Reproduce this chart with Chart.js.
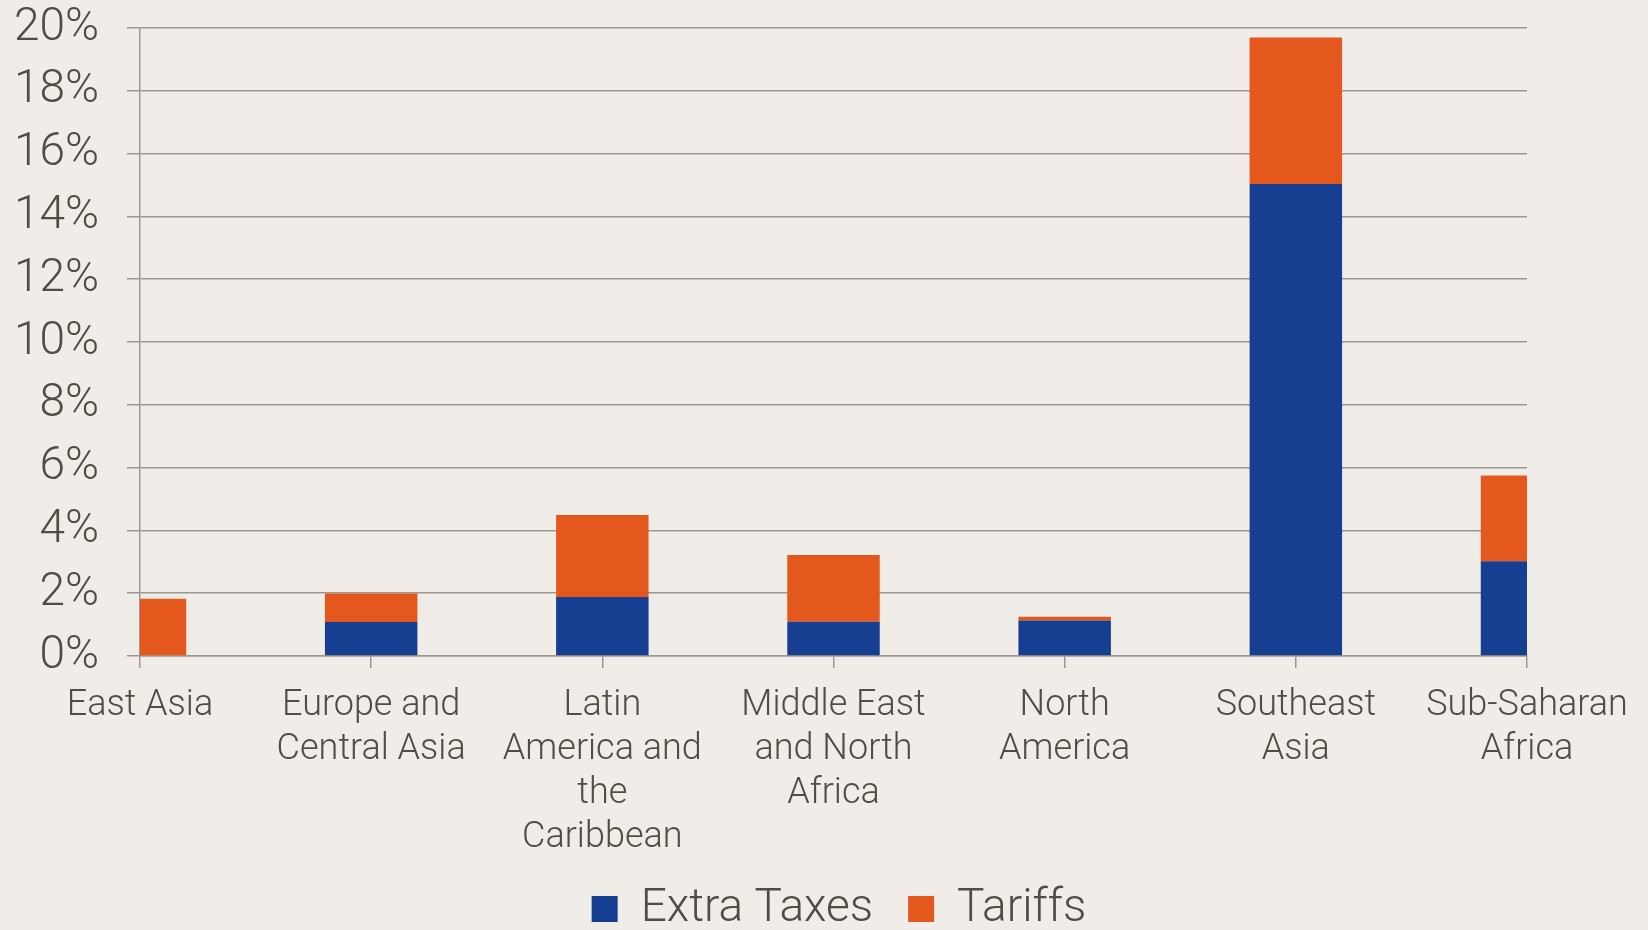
<!DOCTYPE html>
<html>
<head>
<meta charset="utf-8">
<script src="https://cdn.jsdelivr.net/npm/chart.js@4/dist/chart.umd.min.js"></script>
<style>
  html, body { margin: 0; padding: 0; background: #f0ede8; }
  #wrap { width: 1648px; height: 930px; }
</style>
</head>
<body>
<div id="wrap"><canvas id="c" width="1648" height="930"></canvas></div>
<script>
// Regions along the category axis (multi-line labels)
const regions = [
  ['East Asia'],
  ['Europe and', 'Central Asia'],
  ['Latin', 'America and', 'the', 'Caribbean'],
  ['Middle East', 'and North', 'Africa'],
  ['North', 'America'],
  ['Southeast', 'Asia'],
  ['Sub-Saharan', 'Africa']
];

// Share of value, in percent
const extraTaxes = [0, 1.08, 1.88, 1.09, 1.13, 15.03, 3.02];
const tariffs    = [1.82, 0.91, 2.61, 2.13, 0.12, 4.67, 2.73];

// Value axis ticks
const yTicks = [0, 2, 4, 6, 8, 10, 12, 14, 16, 18, 20];

const TEXT = '#504d44';
const GRID = '#9b9892';
const FONT = "Roboto, 'Liberation Sans', sans-serif";

Chart.defaults.font.family = FONT;
Chart.defaults.font.weight = 300;
Chart.defaults.color = TEXT;

// fixed box size for an axis, with no extra edge padding
const fixedWidth = (w) => (s) => {
  s.width = w;
  s.paddingTop = 0;
  s.paddingBottom = 0;
};

new Chart(document.getElementById('c'), {
  type: 'bar',
  data: {
    labels: regions,
    datasets: [
      { label: 'Extra Taxes', data: extraTaxes, backgroundColor: '#163f92', clip: 0 },
      { label: 'Tariffs', data: tariffs, backgroundColor: '#e4581e', clip: 0 }
    ]
  },
  options: {
    responsive: false,
    animation: false,
    devicePixelRatio: 1,
    layout: { padding: { top: 28, right: 0, left: 30, bottom: -12 } },
    datasets: { bar: { categoryPercentage: 0.4, barPercentage: 1 } },
    scales: {
      x: {
        stacked: true,
        offset: false,
        afterFit: (s) => { s.height = 195; },
        grid: { offset: false, drawOnChartArea: false, drawTicks: true, tickLength: 12, color: GRID, lineWidth: 1.5 },
        border: { color: GRID, width: 1.5 },
        ticks: {
          padding: 16,
          maxRotation: 0,
          autoSkip: false,
          font: { size: 36, lineHeight: 44 / 36 },
          color: TEXT
        }
      },
      y: {
        stacked: true,
        min: 0,
        max: 20,
        afterFit: (s) => {
          fixedWidth(110)(s);
          // let the tick labels run into the left margin
          s._computeLabelArea = () => null;
        },
        afterBuildTicks: (s) => { s.ticks = yTicks.map(v => ({ value: v })); },
        grid: { color: GRID, lineWidth: 1.5, drawTicks: true, tickLength: 13 },
        border: { color: GRID, width: 1.5 },
        ticks: {
          padding: 28,
          autoSkip: false,
          font: { size: 46 },
          color: TEXT,
          callback: (v) => v + '%'
        }
      },
      // empty right-hand margin so the plot ends short of the canvas edge
      gutter: {
        type: 'linear',
        position: 'right',
        afterFit: fixedWidth(121),
        grid: { display: false },
        border: { display: false },
        ticks: { display: false }
      }
    },
    plugins: {
      tooltip: { enabled: false },
      legend: {
        position: 'bottom',
        labels: {
          boxWidth: 26,
          boxHeight: 26,
          padding: 35,
          color: TEXT,
          font: { size: 46 }
        }
      }
    }
  }
});
</script>
</body>
</html>
